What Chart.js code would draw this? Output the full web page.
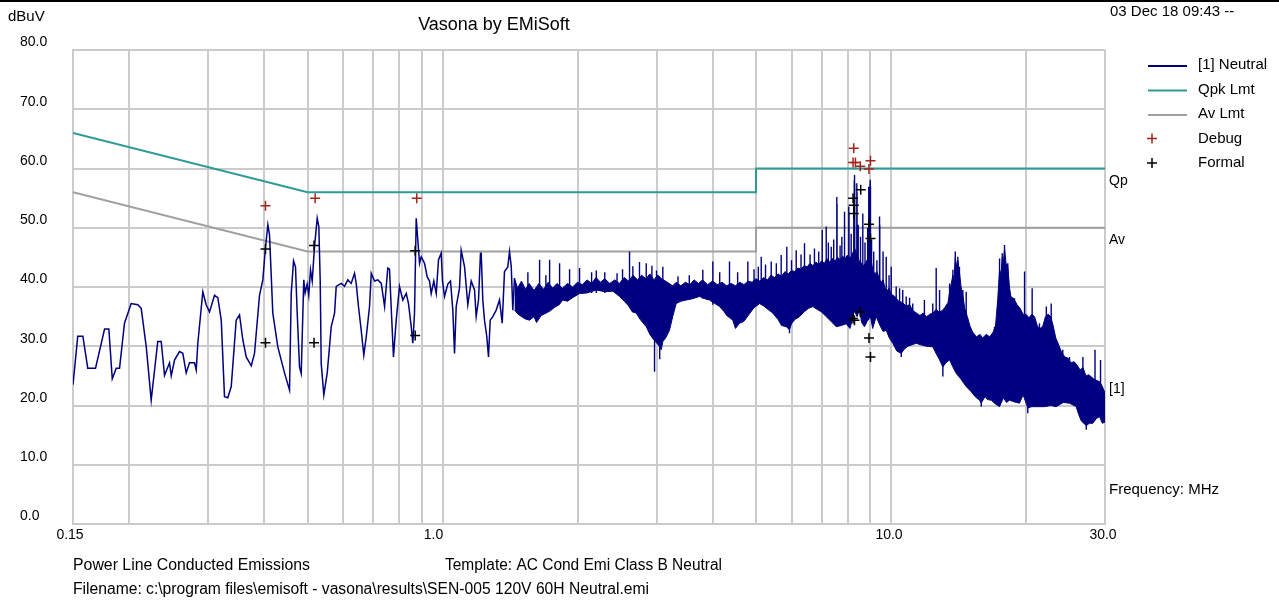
<!DOCTYPE html>
<html><head><meta charset="utf-8">
<script src="https://cdn.jsdelivr.net/npm/chart.js@4.4.1/dist/chart.umd.min.js"></script>
<style>html,body{margin:0;padding:0;background:#fff;overflow:hidden}canvas{display:block}</style>
</head><body>
<canvas id="c" width="1279" height="603"></canvas>
<script>
// ---------- DATA (frequency MHz, level dBuV) ----------
const neutralTrace = [
[0.150,23.5],[0.1537,31.7],[0.1578,31.7],[0.1618,26.3],[0.1684,26.3],[0.1764,32.9],[0.1803,32.9],
[0.1835,24.5],[0.1873,26.3],[0.1905,26.3],[0.1954,33.9],[0.2022,37.2],[0.2092,37.0],[0.2129,36.4],
[0.2185,29.9],[0.2241,20.9],[0.2318,30.8],[0.2359,30.8],[0.2400,25.1],[0.2462,27.2],[0.2484,25.0],
[0.2527,27.7],[0.2592,29.1],[0.2636,28.8],[0.2682,25.5],[0.2728,27.2],[0.2799,27.2],[0.2824,26.0],
[0.2847,30.5],[0.2921,39.2],[0.2972,37.0],[0.3023,35.8],[0.3102,38.6],[0.3155,38.2],[0.3211,34.4],
[0.3265,21.5],[0.3321,21.3],[0.3380,23.2],[0.3467,34.4],[0.3527,35.3],[0.3587,31.1],[0.3650,28.2],
[0.3746,26.7],[0.3809,28.8],[0.3908,38.6],[0.3975,41.2],[0.4031,46.8],[0.4079,50.5],[0.4114,48.8],
[0.4184,35.6],[0.4293,29.9],[0.4443,25.5],[0.4559,22.6],[0.4599,38.9],[0.4654,44.4],[0.4701,43.4],
[0.4742,35.6],[0.4799,26.5],[0.4841,25.4],[0.4905,41.2],[0.4940,39.0],[0.4991,40.5],[0.5033,38.6],
[0.5077,42.9],[0.5122,41.0],[0.5183,46.8],[0.5255,51.6],[0.5299,50.2],[0.5337,41.0],[0.5364,27.1],
[0.5437,21.8],[0.5533,25.5],[0.5648,33.3],[0.5745,35.6],[0.5794,40.1],[0.5944,40.6],[0.6046,40.1],
[0.6150,41.2],[0.6257,40.6],[0.6365,42.3],[0.6420,40.6],[0.6496,36.7],[0.6587,32.7],[0.6676,28.5],
[0.6760,31.6],[0.6875,36.7],[0.6936,42.3],[0.7055,41.0],[0.7175,41.2],[0.7302,40.6],[0.7427,36.7],
[0.7551,43.2],[0.7617,43.0],[0.7707,34.4],[0.7774,28.2],[0.7884,34.4],[0.8018,40.1],[0.8156,37.8],
[0.8301,38.9],[0.8398,37.2],[0.8516,33.3],[0.8586,30.5],[0.8661,35.6],[0.8737,51.6],[0.8810,47.9],
[0.8888,44.0],[0.8965,45.1],[0.9118,44.0],[0.9245,41.7],[0.9354,41.0],[0.9436,38.9],[0.9563,41.0],
[0.9683,38.9],[0.9797,44.6],[0.9933,45.7],[1.000,41.0],[1.0104,38.4],[1.0276,40.5],[1.0419,41.0],
[1.0543,36.1],[1.0636,28.8],[1.0728,36.7],[1.0911,39.8],[1.1007,46.2],[1.1198,43.4],[1.1386,37.0],
[1.1587,41.0],[1.1786,39.5],[1.1887,35.0],[1.2030,37.8],[1.2152,45.7],[1.2197,45.7],[1.2298,37.8],
[1.2404,34.4],[1.2553,31.6],[1.2663,28.2],[1.2774,34.4],[1.2946,35.0],[1.3172,36.1],[1.3399,37.8],
[1.3586,33.9],[1.3746,42.6],[1.3982,43.4],[1.4105,46.0],[1.4229,43.5],[1.4345,36.1],[1.447,41.5]
];
// top edge of the dense noise band (1.45 - 30 MHz)
const bandUpper = [
[1.447,41.5],[1.47,39.8],[1.50,41.0],[1.53,39.6],[1.56,40.6],[1.60,39.4],[1.64,40.6],[1.68,39.6],
[1.72,40.8],[1.76,39.8],[1.80,40.6],[1.85,39.8],[1.90,40.6],[1.95,40.0],[2.00,40.8],[2.05,40.4],
[2.10,41.2],[2.15,40.6],[2.20,41.6],[2.25,40.8],[2.30,41.4],[2.36,40.6],[2.42,41.2],[2.48,40.6],
[2.54,41.6],[2.60,41.0],[2.66,42.0],[2.72,41.2],[2.78,42.0],[2.84,41.4],[2.90,42.2],[2.96,41.2],
[3.02,42.0],[3.08,41.4],[3.14,41.0],[3.20,40.6],[3.26,40.2],[3.32,40.8],[3.40,40.2],[3.48,40.8],
[3.56,40.4],[3.64,41.2],[3.72,40.6],[3.80,41.2],[3.90,40.4],[4.00,41.0],[4.10,40.4],[4.20,40.8],
[4.30,40.2],[4.40,40.6],[4.50,40.2],[4.60,40.8],[4.70,40.4],[4.80,41.0],[4.90,40.8],[5.00,41.4],
[5.10,41.0],[5.20,41.6],[5.30,41.2],[5.40,42.0],[5.50,41.6],[5.60,42.2],[5.70,41.8],[5.80,42.6],
[5.90,42.2],[6.00,42.8],[6.10,42.6],[6.20,43.2],[6.30,43.0],[6.40,43.6],[6.50,43.4],[6.60,44.0],
[6.70,43.6],[6.80,44.2],[6.90,43.8],[7.00,44.4],[7.10,44.0],[7.20,44.8],[7.30,44.2],[7.40,44.8],
[7.50,44.4],[7.60,45.0],[7.70,44.6],[7.80,45.2],[7.90,44.8],[8.00,45.4],[8.10,44.8],[8.20,45.6],
[8.30,46.5],[8.40,45.2],[8.50,44.4],[8.60,44.0],[8.70,43.6],[8.80,44.2],[8.90,45.0],[9.00,45.2],
[9.10,43.0],[9.20,42.2],[9.30,42.6],[9.40,41.6],[9.50,40.8],[9.60,41.2],[9.70,39.8],[9.80,39.4],
[9.90,39.8],[10.0,38.8],[10.2,38.4],[10.4,37.6],[10.6,37.4],[10.8,36.8],[11.0,37.0],[11.2,36.0],
[11.4,35.6],[11.6,35.2],[11.8,35.6],[12.0,35.0],[12.2,35.4],[12.4,35.6],[12.6,36.2],[12.8,35.8],
[13.0,36.0],[13.2,36.6],[13.4,37.4],[13.5,39.0],[13.74,42.0],[13.82,41.0],[13.91,45.0],[14.0,43.5],
[14.09,44.5],[14.21,42.5],[14.33,40.0],[14.46,38.5],[14.6,36.4],[14.8,35.0],[15.0,33.4],[15.2,32.4],
[15.5,31.6],[15.8,32.0],[16.0,31.4],[16.3,32.0],[16.6,31.6],[16.9,32.4],[17.1,33.4],[17.3,38.0],
[17.46,43.0],[17.6,42.0],[17.7,45.0],[17.8,44.0],[17.91,46.5],[18.05,44.0],[18.21,43.5],[18.37,40.0],
[18.5,38.4],[18.8,38.0],[19.1,37.0],[19.4,36.4],[19.7,35.4],[20.0,35.4],[20.3,34.8],
[20.6,35.4],[20.9,35.0],[21.2,33.4],[21.5,33.0],[21.8,33.4],[22.1,35.0],[22.4,35.4],[22.7,35.0],
[23.0,33.4],[23.3,31.4],[23.6,30.4],[24.0,29.0],[24.4,28.2],[24.8,28.0],[25.2,27.2],[25.6,27.4],
[26.0,26.8],[26.4,26.0],[26.8,26.4],[27.2,25.0],[27.6,25.2],[28.0,24.8],[28.4,24.4],[28.8,24.2],
[29.2,24.0],[29.6,23.2],[30.0,22.1]
];
// bottom edge of the dense noise band
const bandLower = [
[1.447,36.1],[1.47,35.5],[1.50,35.0],[1.53,34.6],[1.563,34.4],[1.60,35.0],[1.62,34.0],[1.66,35.2],
[1.703,35.6],[1.74,36.0],[1.78,36.6],[1.82,37.0],[1.854,37.8],[1.90,37.6],[1.95,38.2],[2.021,38.9],
[2.10,39.0],[2.202,39.5],[2.30,39.2],[2.398,39.3],[2.481,38.4],[2.55,37.5],[2.60,36.8],[2.65,35.8],
[2.703,35.6],[2.76,34.5],[2.846,33.3],[2.90,32.0],[2.95,31.2],[3.03,30.2],
[3.074,29.4],[3.10,30.8],[3.15,31.5],[3.207,32.7],[3.26,35.0],[3.319,37.2],[3.40,37.6],[3.494,37.8],
[3.60,38.0],[3.741,38.4],[3.85,38.0],[3.938,37.8],[4.05,37.2],[4.146,36.7],[4.25,35.8],[4.30,35.2],
[4.439,34.4],[4.50,33.0],[4.595,33.9],[4.70,34.2],[4.837,35.5],[4.95,36.5],[5.091,37.2],[5.20,36.8],
[5.30,36.3],[5.45,35.6],[5.60,34.5],[5.70,33.5],[5.838,33.3],[5.938,32.8],[6.00,33.8],[6.10,34.5],
[6.252,35.0],[6.40,35.8],[6.55,36.4],[6.693,36.7],[6.85,36.2],[7.00,35.8],[7.17,35.0],[7.35,34.2],
[7.548,33.3],[7.75,33.5],[7.946,33.8],[8.10,33.0],[8.292,36.0],[8.40,35.0],[8.508,36.1],[8.60,34.0],
[8.728,33.3],[8.85,34.2],[9.00,35.0],[9.10,33.0],[9.268,35.0],[9.45,33.5],[9.60,32.5],[9.757,32.7],
[9.90,31.5],[10.09,30.5],[10.30,29.2],[10.54,28.8],[10.70,29.5],[10.90,30.0],[11.10,30.2],[11.38,30.5],
[11.70,30.2],[12.00,30.0],[12.39,29.9],[12.60,28.8],[12.83,27.7],[13.05,26.5],[13.25,27.2],[13.51,27.7],
[13.74,26.5],[13.98,25.4],[14.30,24.5],[14.71,23.2],[15.10,22.3],[15.40,21.5],[15.75,20.9],[15.89,20.4],
[16.20,21.5],[16.40,21.0],[16.73,20.9],[17.00,20.4],[17.46,19.8],[17.80,21.3],[18.10,20.5],[18.37,20.9],
[18.85,20.6],[19.34,20.4],[19.70,21.8],[20.18,19.6],[20.60,19.8],[21.00,19.8],[21.43,19.8],[22.00,19.8],
[22.70,20.0],[23.35,19.8],[24.20,20.5],[25.00,20.4],[25.88,19.8],[26.20,18.5],[26.56,17.4],[27.25,16.6],
[27.70,17.0],[28.18,17.0],[28.70,17.8],[29.17,18.1],[29.60,17.0],[30.00,17.2]
];
// narrow spikes of the trace inside the noise band: [frequency, from level, to level]
const traceSpikes = [
[1.55,38,42.5],[1.646,38,44.6],[1.70,38,42.0],[1.733,38,44.6],[1.824,38,44.0],[1.92,38,43.0],[2.021,39,43.2],
[2.15,39,42.5],[2.202,39,42.8],[2.30,39,42.5],[2.45,39,42.3],[2.52,39,43.0],[2.612,38,46.0],[2.657,38,43.5],
[2.749,38,44.2],[2.846,36,44.0],[2.93,35,43.6],[2.97,25.7,31.5],[3.0,35,42.8],[3.05,27.8,31.0],[3.099,34,43.4],
[3.35,38,41.8],[3.55,38,42.0],[3.805,38,42.9],[4.006,37,44.3],[4.15,38,42.5],[4.364,36,44.3],[4.55,37,42.5],
[4.795,36,44.3],[4.95,38,43.0],[5.06,37,43.4],[5.136,38,45.1],[5.25,38,43.8],[5.406,38,44.3],[5.55,38,44.0],
[5.69,37,45.4],[5.857,36,46.8],[5.938,32.2,35],[6.0,38,44.5],[6.146,38,46.2],[6.3,39,45.5],[6.414,39,47.4],
[6.6,40,45.5],[6.75,40,46.5],[6.9,40,46.0],[7.025,40,49.6],[7.17,40,50.2],[7.25,40,47.5],[7.357,40,46.8],
[7.45,40,48.0],[7.571,40,55.2],[7.58,40,54.0],[7.70,40,47.0],[7.77,40,48.5],[7.877,40,52.7],[8.05,40,53.6],
[8.06,40,52.5],[8.15,40,49.0],[8.26,40,55.0],[8.28,40,58.0],[8.292,40,58.9],[8.30,40,57.5],[8.39,40,57.5],
[8.40,40,56.0],[8.45,40,50.5],[8.55,40,48.5],[8.652,40,52.4],[8.75,40,47.5],[8.87,40,50.0],[8.92,40,56.9],
[8.93,40,55.5],[8.98,40,57.5],[8.99,40,58.1],[9.0,40,57.0],[9.05,40,48.0],[9.15,38,46.0],[9.3,38,44.5],
[9.428,38,51.9],[9.44,38,50.5],[9.60,37,46.0],[9.757,36,45.1],[9.9,35,42.0],[10.01,35,43.4],[10.27,35,40.1],
[10.45,34,39.8],[10.54,28.2,31],[10.62,33,39.5],[10.81,33,38.4],[11.0,33,38.2],[11.18,33,37.2],[11.87,32,37.8],
[12.39,32,37.2],[12.61,32,43.2],[12.83,32,39.5],[13.05,24.9,28],[13.51,33,40.6],[13.74,34,42.9],[13.91,35,46.0],
[14.09,35,45.1],[14.21,35,43.4],[14.46,33,39.5],[14.71,32,39.2],[15.10,28,32.2],[15.89,19.8,22],[17.01,28,33.3],
[17.46,32,44.8],[17.70,33,45.7],[17.91,33,47.1],[18.21,33,44.0],[18.85,33,38.1],[19.85,32,42.6],[20.18,18.7,21],
[20.64,31,39.8],[21.43,30,33.9],[22.2,31,36.7],[22.76,31,37.2],[24.15,25,29.4],[25.0,25,28.2],[26.78,24,28.2],
[27.25,15.9,19],[28.5,22,29.4],[29.32,21,27.7]
];
const qpkFreq  = [0.15, 0.5, 5, 5, 30];
const qpkLevel = [66, 56, 56, 60, 60];
const avFreq   = [0.15, 0.5, 5, 5, 30];
const avLevel  = [56, 46, 46, 50, 50];
const debugFreq  = [0.403, 0.52, 0.876, 8.26, 8.23, 8.33, 8.54, 9.0, 8.93];
const debugLevel = [53.7, 55.0, 55.0, 63.4, 61.0, 61.0, 60.4, 61.3, 59.9];
const formalFreq  = [0.403, 0.403, 0.517, 0.517, 0.869, 0.869, 8.23, 8.26, 8.26, 8.56, 8.93, 9.0, 8.54, 8.23, 8.29, 8.93, 9.0];
const formalLevel = [46.4, 30.6, 47.0, 30.6, 46.1, 31.8, 55.0, 53.8, 52.4, 56.4, 50.6, 48.2, 35.8, 34.7, 34.4, 31.4, 28.2];
const yTickValues = [0, 10, 20, 30, 40, 50, 60, 70, 80];
const xGridValues = [0.15, 0.2, 0.3, 0.4, 0.5, 0.6, 0.7, 0.8, 0.9, 1, 2, 3, 4, 5, 6, 7, 8, 9, 10, 20, 30];
const xLabelValues = [0.15, 1, 10, 30];
const xTickLabels = ['0.15', '1.0', '10.0', '30.0'];
const legendLabels = ['[1] Neutral', 'Qpk Lmt', 'Av Lmt', 'Debug', 'Formal'];

// ---------- STYLE ----------
const NAVY = '#000080', TEAL = '#2e9a96', GRAY = '#a0a0a0', RED = '#a3261c', BLACK = '#000000';
const GRID = '#cbcbcb';
const FONT = '"Liberation Sans", Arial, sans-serif';

const pairs = a => a.map(p => ({x: p[0], y: p[1]}));
const zip = (f, v) => f.map((x, i) => ({x, y: v[i]}));
const segs = a => a.flatMap(s => [{x: s[0], y: s[1]}, {x: s[0], y: s[2]}, {x: s[0], y: null}]);

function txt(ctx, s, x, y, size, align, maxW, color) {
  ctx.save();
  ctx.font = size + 'px ' + FONT;
  ctx.fillStyle = color || '#000';
  ctx.textAlign = align || 'left';
  ctx.textBaseline = 'middle';
  if (maxW) ctx.fillText(s, x, y, maxW); else ctx.fillText(s, x, y);
  ctx.restore();
}

const annot = {
  id: 'annot',
  afterDraw(chart) {
    const ctx = chart.ctx, a = chart.chartArea, xs = chart.scales.x, ys = chart.scales.y;
    ctx.save(); ctx.fillStyle = '#000'; ctx.fillRect(0, 0, chart.width, 2); ctx.restore();
    txt(ctx, 'dBuV', 8, 17, 15, 'left', 37);
    txt(ctx, 'Vasona by EMiSoft', 494, 25, 18, 'center', 153);
    txt(ctx, '03 Dec 18 09:43 --', 1110, 12, 15, 'left', 127);
    yTickValues.forEach(v => txt(ctx, v.toFixed(1), 20, ys.getPixelForValue(v) - 7.5, 14, 'left'));
    const shift = [-3, -9, -2, -2];
    xLabelValues.forEach((v, i) => txt(ctx, xTickLabels[i], xs.getPixelForValue(v) + shift[i], a.bottom + 11, 14, 'center'));
    txt(ctx, 'Qp', a.right + 4, ys.getPixelForValue(qpkLevel[qpkLevel.length - 1]) + 12.5, 14, 'left');
    txt(ctx, 'Av', a.right + 4, ys.getPixelForValue(avLevel[avLevel.length - 1]) + 12.5, 14, 'left');
    txt(ctx, '[1]', a.right + 4, ys.getPixelForValue(bandUpper[bandUpper.length - 1][1]) - 4, 14, 'left');
    txt(ctx, 'Frequency: MHz', a.right + 4, a.bottom - 34, 15, 'left', 111);
    const rows = [65, 89.5, 114, 138.5, 163];
    const cols = [NAVY, TEAL, GRAY, RED, BLACK];
    rows.forEach((ry, i) => {
      ctx.save();
      ctx.strokeStyle = cols[i];
      if (i < 3) {
        ctx.lineWidth = 2;
        ctx.beginPath(); ctx.moveTo(1148, ry + 1); ctx.lineTo(1187, ry + 1); ctx.stroke();
      } else {
        ctx.lineWidth = 1.5;
        ctx.beginPath();
        ctx.moveTo(1147, ry); ctx.lineTo(1157, ry);
        ctx.moveTo(1152, ry - 5); ctx.lineTo(1152, ry + 5);
        ctx.stroke();
      }
      ctx.restore();
      txt(ctx, legendLabels[i], 1198, ry, 15, 'left');
    });
    txt(ctx, 'Power Line Conducted Emissions', 73, 566, 16, 'left', 237);
    txt(ctx, 'Template: AC Cond Emi Class B Neutral', 445, 566, 16, 'left', 277);
    txt(ctx, 'Filename: c:\\program files\\emisoft - vasona\\results\\SEN-005 120V 60H Neutral.emi', 73, 590, 16, 'left', 576);
  }
};

const lineBase = {type: 'line', pointRadius: 0, tension: 0, fill: false};
new Chart(document.getElementById('c'), {
  data: {
    datasets: [
      {type: 'scatter', label: 'Debug', data: zip(debugFreq, debugLevel), pointStyle: 'cross', pointRadius: 5, borderColor: RED, borderWidth: 1.5, backgroundColor: RED},
      {type: 'scatter', label: 'Formal', data: zip(formalFreq, formalLevel), pointStyle: 'cross', pointRadius: 5, borderColor: BLACK, borderWidth: 1.5, backgroundColor: BLACK},
      Object.assign({}, lineBase, {label: '[1] Neutral', data: pairs(neutralTrace), borderColor: NAVY, borderWidth: 1.5}),
      Object.assign({}, lineBase, {label: 'spikes', data: segs(traceSpikes), borderColor: NAVY, borderWidth: 1.4, spanGaps: false}),
      Object.assign({}, lineBase, {label: 'band top', data: pairs(bandUpper), borderColor: NAVY, borderWidth: 1}),
      Object.assign({}, lineBase, {label: 'band bottom', data: pairs(bandLower), borderColor: NAVY, borderWidth: 1, fill: '-1', backgroundColor: NAVY}),
      Object.assign({}, lineBase, {label: 'Qpk Lmt', data: zip(qpkFreq, qpkLevel), borderColor: TEAL, borderWidth: 2}),
      Object.assign({}, lineBase, {label: 'Av Lmt', data: zip(avFreq, avLevel), borderColor: GRAY, borderWidth: 2})
    ]
  },
  options: {
    responsive: false,
    animation: false,
    devicePixelRatio: 1,
    layout: {padding: {left: 73, right: 174, top: 50, bottom: 79}},
    plugins: {legend: {display: false}, tooltip: {enabled: false}, title: {display: false}},
    scales: {
      x: {
        type: 'logarithmic', min: 0.15, max: 30,
        afterBuildTicks: s => { s.ticks = xGridValues.map(v => ({value: v})); },
        afterFit: s => { s.height = 0; },
        ticks: {display: false, callback: () => ''},
        grid: {color: GRID, lineWidth: 2, drawTicks: false},
        border: {display: true, color: GRID, width: 2}
      },
      y: {
        type: 'linear', min: 0, max: 80,
        afterBuildTicks: s => { s.ticks = yTickValues.map(v => ({value: v})); },
        afterFit: s => { s.width = 0; },
        ticks: {display: false},
        grid: {color: GRID, lineWidth: 2, drawTicks: false},
        border: {display: true, color: GRID, width: 2}
      }
    }
  },
  plugins: [annot]
});
</script>
</body></html>
